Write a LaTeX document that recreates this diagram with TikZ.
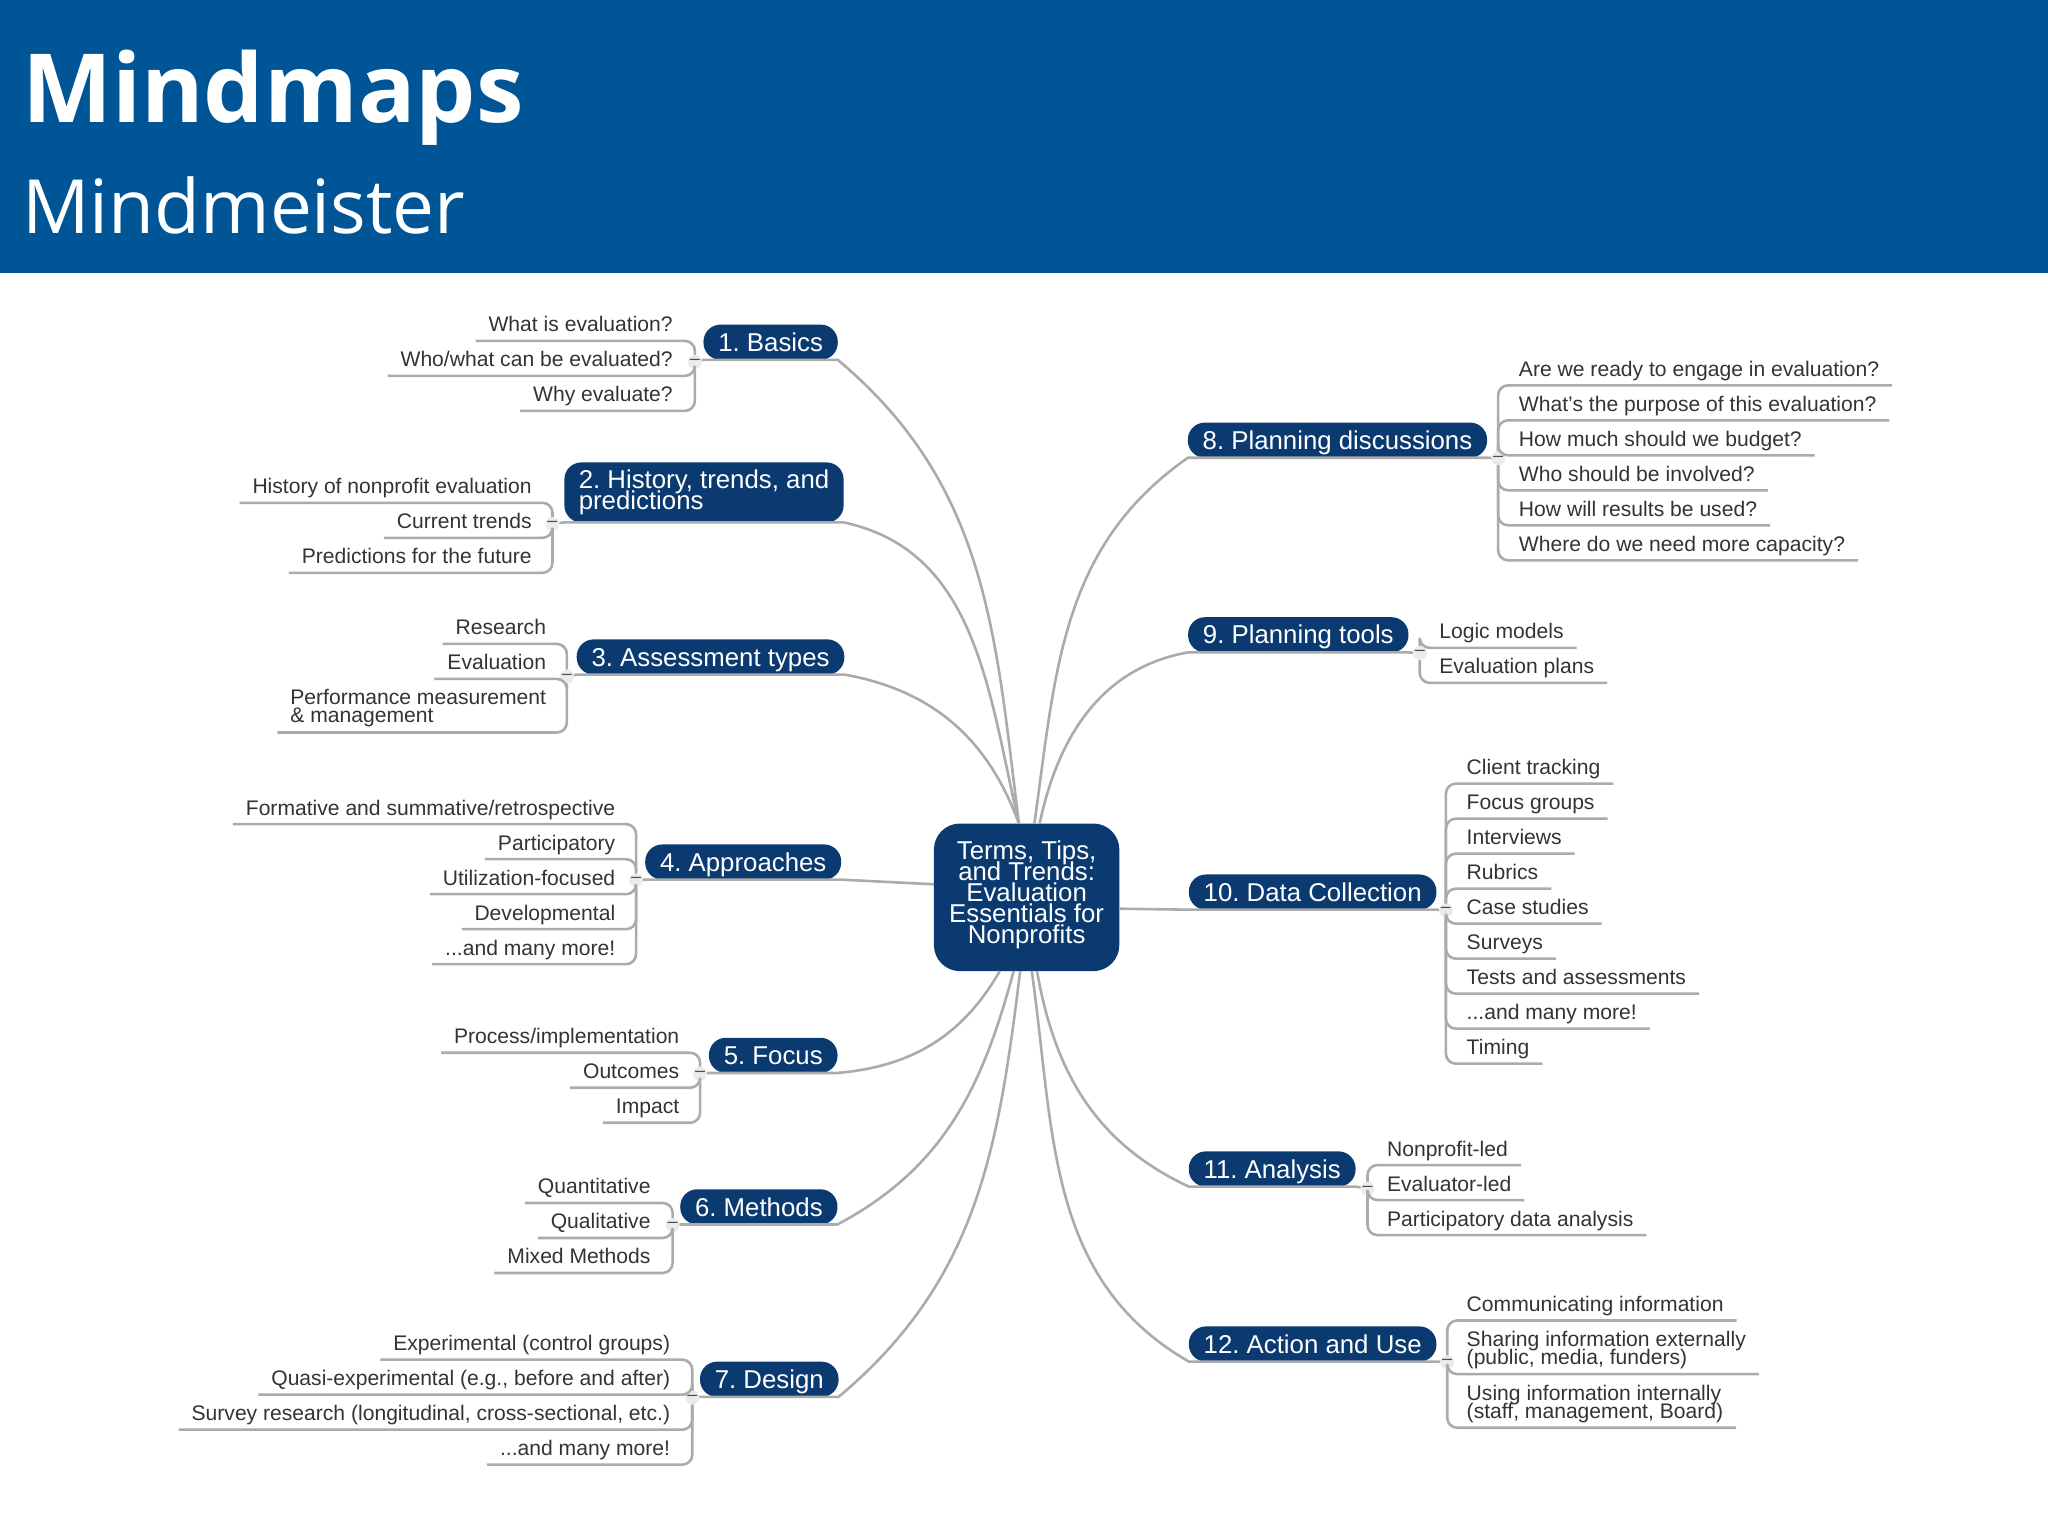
\documentclass[tikz,border=0pt]{standalone}
\usepackage{fontspec}
\setmainfont{Liberation Sans}
\newfontfamily\titlefont{Open Sans}
\usetikzlibrary{positioning}
\frenchspacing
\lineskiplimit=-20pt
\definecolor{bannerblue}{HTML}{005596}
\definecolor{topicblue}{HTML}{0B3A70}
\definecolor{linegray}{HTML}{ABABAB}
\definecolor{leaftext}{HTML}{333333}
\newcommand{\leadin}{\rule{0pt}{10.3pt}}

\begin{document}
\begin{tikzpicture}[x=0.65306pt, y=-0.65306pt, outer sep=0pt,
    banner/.style = {fill=bannerblue, draw=none},
    titlebig/.style = {anchor=base west, inner sep=0pt, text=white, font=\titlefont\bfseries\fontsize{47.7}{50}\selectfont},
    titlesmall/.style = {anchor=base west, inner sep=0pt, text=white, font=\titlefont\fontsize{37.4}{40}\selectfont},
    rootbox/.style = {fill=topicblue, rounded corners=13pt, minimum width=92.7pt, minimum height=73.8pt, inner sep=0pt, text=white, align=center, font=\fontsize{12.9}{10.5}\selectfont},
    topic/.style = {fill=topicblue, rounded corners=8.5pt, minimum height=17.6pt, inner xsep=7.4pt, inner ysep=0pt, text height=9.2pt, text depth=0pt, text=white, font=\fontsize{12.9}{10.5}\selectfont},
    topictwo/.style = {fill=topicblue, rounded corners=8.5pt, minimum height=30pt, inner xsep=7.2pt, inner ysep=0pt, text=white, align=left, font=\fontsize{12.9}{10.5}\selectfont},
    fold/.style = {circle, fill=black!8, minimum size=7pt, inner sep=0pt, text=black!70, font=\fontsize{9}{9}\selectfont},
    leaf/.style = {minimum height=17.5pt, inner xsep=6.5pt, inner ysep=0pt, text height=9.5pt, text depth=1pt, text=leaftext, font=\fontsize{10.55}{9}\selectfont},
    leaftwo/.style = {minimum height=26.8pt, inner xsep=6.5pt, inner ysep=0pt, text=leaftext, align=left, font=\fontsize{10.55}{9}\selectfont},
    branch/.style = {draw=linegray, line width=1.3pt},
    twig/.style = {draw=linegray, line width=1.3pt, rounded corners=5pt},]
    \useasboundingbox (0,0) rectangle (1568,1176);
    \path[banner] (0,0) rectangle (1568,209);
    \node [titlebig] (title) at (17,94) {Mindmaps};
    \node [titlesmall] (subtitle) at (17,179) {Mindmeister};

    \node [rootbox] (root) at (786,687) {Terms, Tips,\\and Trends:\\Evaluation\\Essentials for\\Nonprofits\\[-5pt]\mbox{}};

    % left side
    \node [topic] (basics) at (590,262) {1. Basics};
    \node [topictwo] (history) at (539,377) {2. History, trends, and\\predictions};
    \node [topic] (assess) at (544,503) {3. Assessment types};
    \node [topic] (approach) at (569,660) {4. Approaches};
    \node [topic] (focus) at (592,808) {5. Focus};
    \node [topic] (methods) at (581,924) {6. Methods};
    \node [topic] (design) at (589,1056) {7. Design};
    % right side
    \node [topic] (planning) at (1024,337) {8. Planning discussions};
    \node [topic] (tools) at (994,486) {9. Planning tools};
    \node [topic] (collect) at (1005,683) {10. Data Collection};
    \node [topic] (analysis) at (974,895) {11. Analysis};
    \node [topic] (action) at (1005,1029) {12. Action and Use};

    \node [fold] (foldbasics) at (532,277) {--};
    \node [fold] (foldhistory) at (423,401) {--};
    \node [fold] (foldassess) at (434,518) {--};
    \node [fold] (foldapproach) at (487,674) {--};
    \node [fold] (foldfocus) at (536,822) {--};
    \node [fold] (foldmethods) at (515,938) {--};
    \node [fold] (folddesign) at (530,1070) {--};
    \node [fold] (foldplanning) at (1147,351) {--};
    \node [fold] (foldtools) at (1087,500) {--};
    \node [fold] (foldcollect) at (1107,697) {--};
    \node [fold] (foldanalysis) at (1047,910) {--};
    \node [fold] (foldaction) at (1108,1043) {--};

    \node [leaf, anchor=south east] (basicsa) at (525,261) {What is evaluation?};
    \node [leaf, below=0pt of basicsa.south east, anchor=north east] (basicsb) {Who/what can be evaluated?};
    \node [leaf, below=0pt of basicsb.south east, anchor=north east] (basicsc) {Why evaluate?};

    \node [leaf, anchor=south east] (historya) at (417,385) {History of nonprofit evaluation};
    \node [leaf, below=0pt of historya.south east, anchor=north east] (historyb) {Current trends};
    \node [leaf, below=0pt of historyb.south east, anchor=north east] (historyc) {Predictions for the future};

    \node [leaf, anchor=south east] (assessa) at (428,493) {Research};
    \node [leaf, below=0pt of assessa.south east, anchor=north east] (assessb) {Evaluation};
    \node [leaftwo, below=0pt of assessb.south east, anchor=north east] (assessc) {\leadin Performance measurement\\\& management};

    \node [leaf, anchor=south east] (approacha) at (481,631) {Formative and summative/retrospective};
    \node [leaf, below=0pt of approacha.south east, anchor=north east] (approachb) {Participatory};
    \node [leaf, below=0pt of approachb.south east, anchor=north east] (approachc) {Utilization-focused};
    \node [leaf, below=0pt of approachc.south east, anchor=north east] (approachd) {Developmental};
    \node [leaf, below=0pt of approachd.south east, anchor=north east] (approache) {...and many more!};

    \node [leaf, anchor=south east] (focusa) at (530,806) {Process/implementation};
    \node [leaf, below=0pt of focusa.south east, anchor=north east] (focusb) {Outcomes};
    \node [leaf, below=0pt of focusb.south east, anchor=north east] (focusc) {Impact};

    \node [leaf, anchor=south east] (methodsa) at (508,921) {Quantitative};
    \node [leaf, below=0pt of methodsa.south east, anchor=north east] (methodsb) {Qualitative};
    \node [leaf, below=0pt of methodsb.south east, anchor=north east] (methodsc) {Mixed Methods};

    \node [leaf, anchor=south east] (designa) at (523,1041) {Experimental (control groups)};
    \node [leaf, below=0pt of designa.south east, anchor=north east] (designb) {Quasi-experimental (e.g., before and after)};
    \node [leaf, below=0pt of designb.south east, anchor=north east] (designc) {Survey research (longitudinal, cross-sectional, etc.)};
    \node [leaf, below=0pt of designc.south east, anchor=north east] (designd) {...and many more!};

    \node [leaf, anchor=south west] (planninga) at (1153,295) {Are we ready to engage in evaluation?};
    \node [leaf, below=0pt of planninga.south west, anchor=north west] (planningb) {What's the purpose of this evaluation?};
    \node [leaf, below=0pt of planningb.south west, anchor=north west] (planningc) {How much should we budget?};
    \node [leaf, below=0pt of planningc.south west, anchor=north west] (planningd) {Who should be involved?};
    \node [leaf, below=0pt of planningd.south west, anchor=north west] (planninge) {How will results be used?};
    \node [leaf, below=0pt of planninge.south west, anchor=north west] (planningf) {Where do we need more capacity?};

    \node [leaf, anchor=south west] (toolsa) at (1092,496) {Logic models};
    \node [leaf, below=0pt of toolsa.south west, anchor=north west] (toolsb) {Evaluation plans};

    \node [leaf, anchor=south west] (collecta) at (1113,600) {Client tracking};
    \node [leaf, below=0pt of collecta.south west, anchor=north west] (collectb) {Focus groups};
    \node [leaf, below=0pt of collectb.south west, anchor=north west] (collectc) {Interviews};
    \node [leaf, below=0pt of collectc.south west, anchor=north west] (collectd) {Rubrics};
    \node [leaf, below=0pt of collectd.south west, anchor=north west] (collecte) {Case studies};
    \node [leaf, below=0pt of collecte.south west, anchor=north west] (collectf) {Surveys};
    \node [leaf, below=0pt of collectf.south west, anchor=north west] (collectg) {Tests and assessments};
    \node [leaf, below=0pt of collectg.south west, anchor=north west] (collecth) {...and many more!};
    \node [leaf, below=0pt of collecth.south west, anchor=north west] (collecti) {Timing};

    \node [leaf, anchor=south west] (analysisa) at (1052,892) {Nonprofit-led};
    \node [leaf, below=0pt of analysisa.south west, anchor=north west] (analysisb) {Evaluator-led};
    \node [leaf, below=0pt of analysisb.south west, anchor=north west] (analysisc) {Participatory data analysis};

    \node [leaf, anchor=south west] (actiona) at (1113,1011) {Communicating information};
    \node [leaftwo, below=0pt of actiona.south west, anchor=north west] (actionb) {\leadin Sharing information externally\\(public, media, funders)};
    \node [leaftwo, below=0pt of actionb.south west, anchor=north west] (actionc) {\leadin Using information internally\\(staff, management, Board)};

    \draw[branch] (foldbasics) -- (basics.south west) -- (basics.south east) to[out=-40, in=97] (root.96);
    \draw[branch] (foldhistory) -- (history.south west) -- (history.south east) to[out=-12, in=103] (root.96);
    \draw[branch] (foldassess) -- (assess.south west) -- (assess.south east) to[out=-10, in=110] (root.96);
    \draw[branch] (foldapproach) -- (approach.south west) -- (approach.south east) -- (root.172);
    \draw[branch] (foldfocus) -- (focus.south west) -- (focus.south east) to[out=5, in=-120] (root.-110);
    \draw[branch] (foldmethods) -- (methods.south west) -- (methods.south east) to[out=28, in=-105] (root.-100);
    \draw[branch] (folddesign) -- (design.south west) -- (design.south east) to[out=40, in=-97] (root.-95);
    \draw[branch] (foldplanning) -- (planning.south east) -- (planning.south west) to[out=215, in=82] (root.84);
    \draw[branch] (foldtools) -- (tools.south east) -- (tools.south west) to[out=190, in=78] (root.80);
    \draw[branch] (foldcollect) -- (collect.south east) -- (collect.south west) -- (root.-7);
    \draw[branch] (foldanalysis) -- (analysis.south east) -- (analysis.south west) to[out=155, in=-80] (root.-82);
    \draw[branch] (foldaction) -- (action.south east) -- (action.south west) to[out=150, in=-82] (root.-86);

    \draw[twig] (foldbasics) |- (basicsa.south west);
    \draw[twig] (foldbasics) |- (basicsb.south west);
    \draw[twig] (foldbasics) |- (basicsc.south west);
    \draw[twig] (foldhistory) |- (historya.south west);
    \draw[twig] (foldhistory) |- (historyb.south west);
    \draw[twig] (foldhistory) |- (historyc.south west);
    \draw[twig] (foldassess) |- (assessa.south west);
    \draw[twig] (foldassess) |- (assessb.south west);
    \draw[twig] (foldassess) |- (assessc.south west);
    \draw[twig] (foldapproach) |- (approacha.south west);
    \draw[twig] (foldapproach) |- (approachb.south west);
    \draw[twig] (foldapproach) |- (approachc.south west);
    \draw[twig] (foldapproach) |- (approachd.south west);
    \draw[twig] (foldapproach) |- (approache.south west);
    \draw[twig] (foldfocus) |- (focusa.south west);
    \draw[twig] (foldfocus) |- (focusb.south west);
    \draw[twig] (foldfocus) |- (focusc.south west);
    \draw[twig] (foldmethods) |- (methodsa.south west);
    \draw[twig] (foldmethods) |- (methodsb.south west);
    \draw[twig] (foldmethods) |- (methodsc.south west);
    \draw[twig] (folddesign) |- (designa.south west);
    \draw[twig] (folddesign) |- (designb.south west);
    \draw[twig] (folddesign) |- (designc.south west);
    \draw[twig] (folddesign) |- (designd.south west);
    \draw[twig] (foldplanning) |- (planninga.south east);
    \draw[twig] (foldplanning) |- (planningb.south east);
    \draw[twig] (foldplanning) |- (planningc.south east);
    \draw[twig] (foldplanning) |- (planningd.south east);
    \draw[twig] (foldplanning) |- (planninge.south east);
    \draw[twig] (foldplanning) |- (planningf.south east);
    \draw[twig] (foldtools) |- (toolsa.south east);
    \draw[twig] (foldtools) |- (toolsb.south east);
    \draw[twig] (foldcollect) |- (collecta.south east);
    \draw[twig] (foldcollect) |- (collectb.south east);
    \draw[twig] (foldcollect) |- (collectc.south east);
    \draw[twig] (foldcollect) |- (collectd.south east);
    \draw[twig] (foldcollect) |- (collecte.south east);
    \draw[twig] (foldcollect) |- (collectf.south east);
    \draw[twig] (foldcollect) |- (collectg.south east);
    \draw[twig] (foldcollect) |- (collecth.south east);
    \draw[twig] (foldcollect) |- (collecti.south east);
    \draw[twig] (foldanalysis) |- (analysisa.south east);
    \draw[twig] (foldanalysis) |- (analysisb.south east);
    \draw[twig] (foldanalysis) |- (analysisc.south east);
    \draw[twig] (foldaction) |- (actiona.south east);
    \draw[twig] (foldaction) |- (actionb.south east);
    \draw[twig] (foldaction) |- (actionc.south east);
  \end{tikzpicture}
\end{document}
